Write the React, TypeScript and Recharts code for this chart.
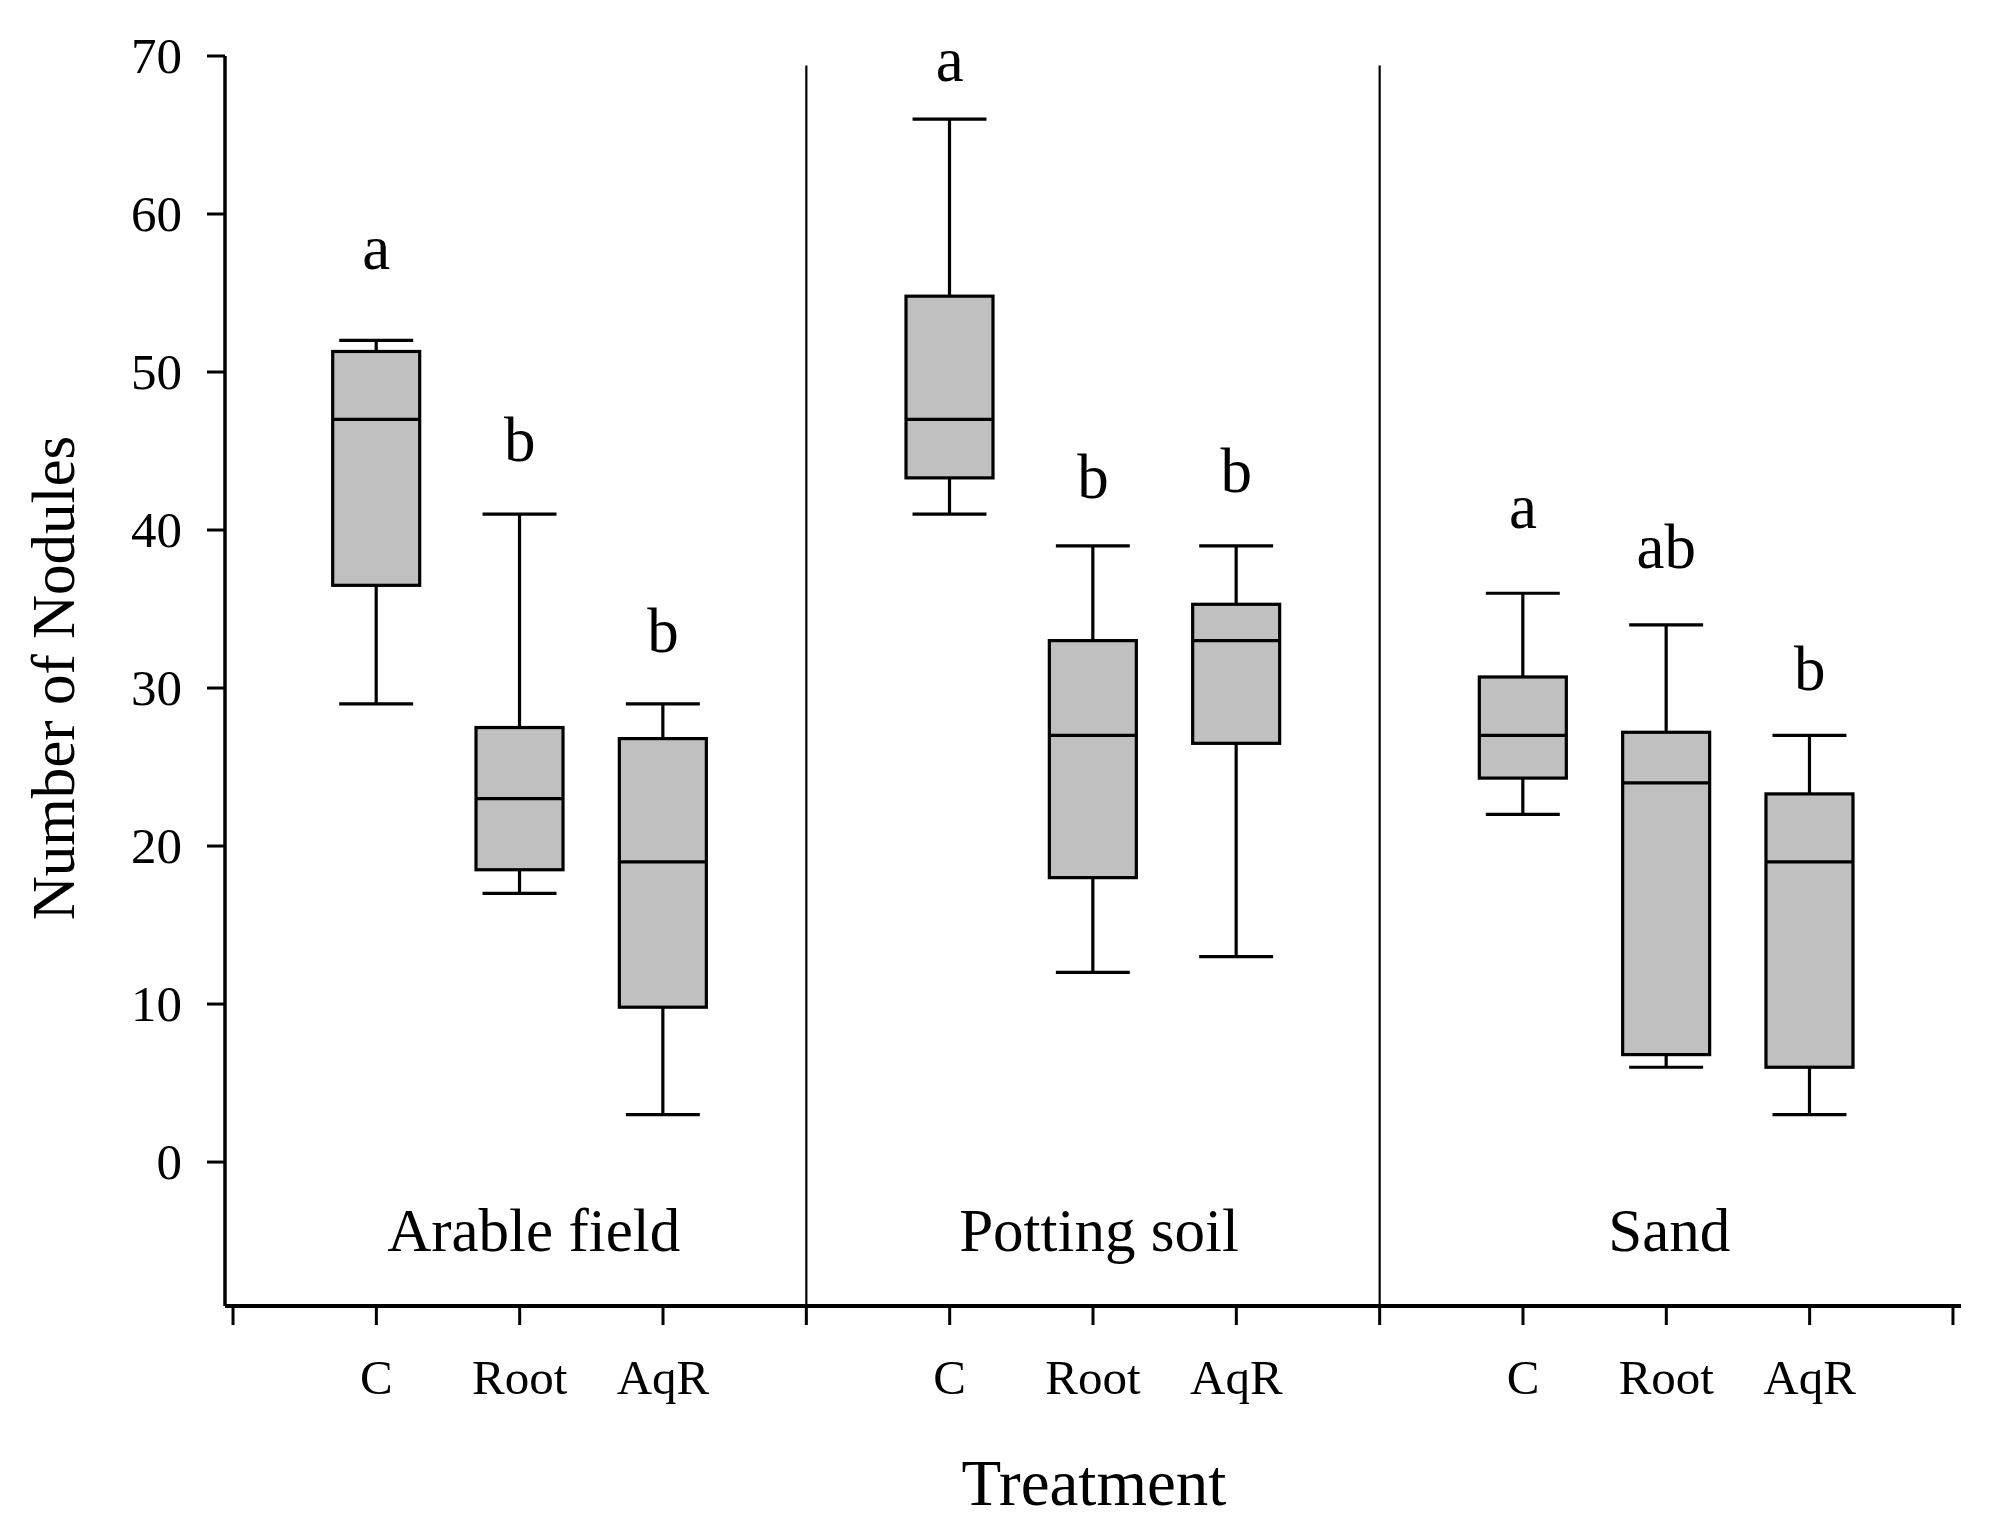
import React from 'react';
import { ComposedChart, Bar, Scatter, XAxis, YAxis, ReferenceLine, Label } from 'recharts';

// box plot values
const categories = ['C', 'Root', 'AqR'];
const groups = ['Arable field', 'Potting soil', 'Sand'];
const xPos = [1, 2, 3, 5, 6, 7, 9, 10, 11];
const whiskerMin = [29, 17, 3, 41, 12, 13, 22, 6, 3];
const q1 = [36.5, 18.5, 9.8, 43.3, 18, 26.5, 24.3, 6.8, 6];
const medians = [47, 23, 19, 47, 27, 33, 27, 24, 19];
const q3 = [51.3, 27.5, 26.8, 54.8, 33, 35.3, 30.7, 27.2, 23.3];
const whiskerMax = [52, 41, 29, 66, 39, 39, 36, 34, 27];
const letters = ['a', 'b', 'b', 'a', 'b', 'b', 'a', 'ab', 'b'];
const letterY = [56.5, 44.4, 32.3, 68.4, 42.0, 42.4, 40.1, 37.6, 29.9];
const groupCenters = [2, 6, 10];
const groupLabelY = -5.6;
const separators = [4, 8];
const yTicks = [0, 10, 20, 30, 40, 50, 60, 70];
const xTicks = [0, 1, 2, 3, 4, 5, 6, 7, 8, 9, 10, 11, 12];

const FONT = 'Liberation Serif';
const groupNudge = [14, 6, 3]; // px, the group titles sit a little right of centre

const boxData = xPos.map((x, i) => ({
  x,
  min: whiskerMin[i],
  q1: q1[i],
  median: medians[i],
  q3: q3[i],
  max: whiskerMax[i],
}));

const letterData = xPos.map((x, i) => ({ x, y: letterY[i], label: letters[i] }));
const groupData = groupCenters.map((x, i) => ({ x, y: groupLabelY, label: groups[i], dx: groupNudge[i] }));

const tickName = (v: number) => {
  const i = xPos.indexOf(v);
  return i < 0 ? '' : categories[i % 3];
};

const BoxShape = (props: any) => {
  const { x, y, width, height, payload } = props;
  const top = Math.min(y, y + height);
  const h = Math.abs(height);
  const k = h / (payload.max - payload.min);
  const py = (v: number) => top + (payload.max - v) * k;
  const cx = x + width / 2;
  const capHalf = width * 0.425;
  return (
    <g stroke="#000" strokeWidth={3.2}>
      <line x1={cx} x2={cx} y1={py(payload.max)} y2={py(payload.q3)} />
      <line x1={cx} x2={cx} y1={py(payload.q1)} y2={py(payload.min)} />
      <line x1={cx - capHalf} x2={cx + capHalf} y1={py(payload.max)} y2={py(payload.max)} />
      <line x1={cx - capHalf} x2={cx + capHalf} y1={py(payload.min)} y2={py(payload.min)} />
      <rect x={x} y={py(payload.q3)} width={width} height={py(payload.q1) - py(payload.q3)} fill="#c0c0c0" />
      <line x1={x} x2={x + width} y1={py(payload.median)} y2={py(payload.median)} />
    </g>
  );
};

const TextShape = (size: number) => (props: any) => {
  const { cx, cy, payload } = props;
  return (
    <text x={cx + (payload.dx || 0)} y={cy} textAnchor="middle" fontFamily={FONT} fontSize={size} fill="#000">
      {payload.label}
    </text>
  );
};

const YTick = (props: any) => (
  <text x={props.x} y={props.y} textAnchor="end" dominantBaseline="central" fontFamily={FONT} fontSize={51} fill="#000">
    {props.payload.value}
  </text>
);

const XTick = (props: any) => (
  <text x={props.x} y={props.y + 65} textAnchor="middle" fontFamily={FONT} fontSize={49} fill="#000">
    {tickName(props.payload.value)}
  </text>
);

const App: React.FC = () => {
  return (
    <div style={{ width: 1980, height: 1520, background: '#fff' }}>
      <ComposedChart width={1980} height={1520} data={boxData} margin={{ top: 48, right: 27, bottom: 72, left: 0 }}>
        <XAxis
          type="number"
          dataKey="x"
          domain={[-0.056, 12.056]}
          ticks={xTicks}
          interval={0}
          height={150}
          tickSize={19}
          tickMargin={4}
          axisLine={{ stroke: '#000', strokeWidth: 4 }}
          tickLine={{ stroke: '#000', strokeWidth: 3 }}
          tick={XTick}
        >
          <Label
            content={(p: any) => {
              const vb = p.viewBox;
              return (
                <text x={vb.x + vb.width / 2 + 1} y={vb.y + 199} textAnchor="middle" fontFamily={FONT} fontSize={65} fill="#000">
                  Treatment
                </text>
              );
            }}
          />
        </XAxis>
        <YAxis
          type="number"
          domain={[-9.11, 70]}
          ticks={yTicks}
          interval={0}
          width={217}
          tickSize={18}
          tickMargin={25}
          axisLine={{ stroke: '#000', strokeWidth: 3.5 }}
          tickLine={{ stroke: '#000', strokeWidth: 3 }}
          tick={YTick}
        >
          <Label
            content={(p: any) => {
              const vb = p.viewBox;
              const cx = vb.x + 45;
              const cy = vb.y + vb.height / 2 - 3;
              return (
                <text
                  x={cx}
                  y={cy}
                  transform={`rotate(-90, ${cx}, ${cy})`}
                  textAnchor="middle"
                  dominantBaseline="central"
                  fontFamily={FONT}
                  fontSize={61}
                  fill="#000"
                >
                  Number of Nodules
                </text>
              );
            }}
          />
        </YAxis>
        {separators.map((s) => (
          <ReferenceLine
            key={s}
            segment={[{ x: s, y: -9.11 }, { x: s, y: 69.4 }]}
            stroke="#000"
            strokeWidth={2.2}
            ifOverflow="visible"
          />
        ))}
        <Bar dataKey={(d: any) => [d.min, d.max]} barSize={87} shape={BoxShape} isAnimationActive={false} />
        <Scatter data={letterData} dataKey="y" shape={TextShape(63)} isAnimationActive={false} />
        <Scatter data={groupData} dataKey="y" shape={TextShape(61)} isAnimationActive={false} />
      </ComposedChart>
    </div>
  );
};

export default App;
